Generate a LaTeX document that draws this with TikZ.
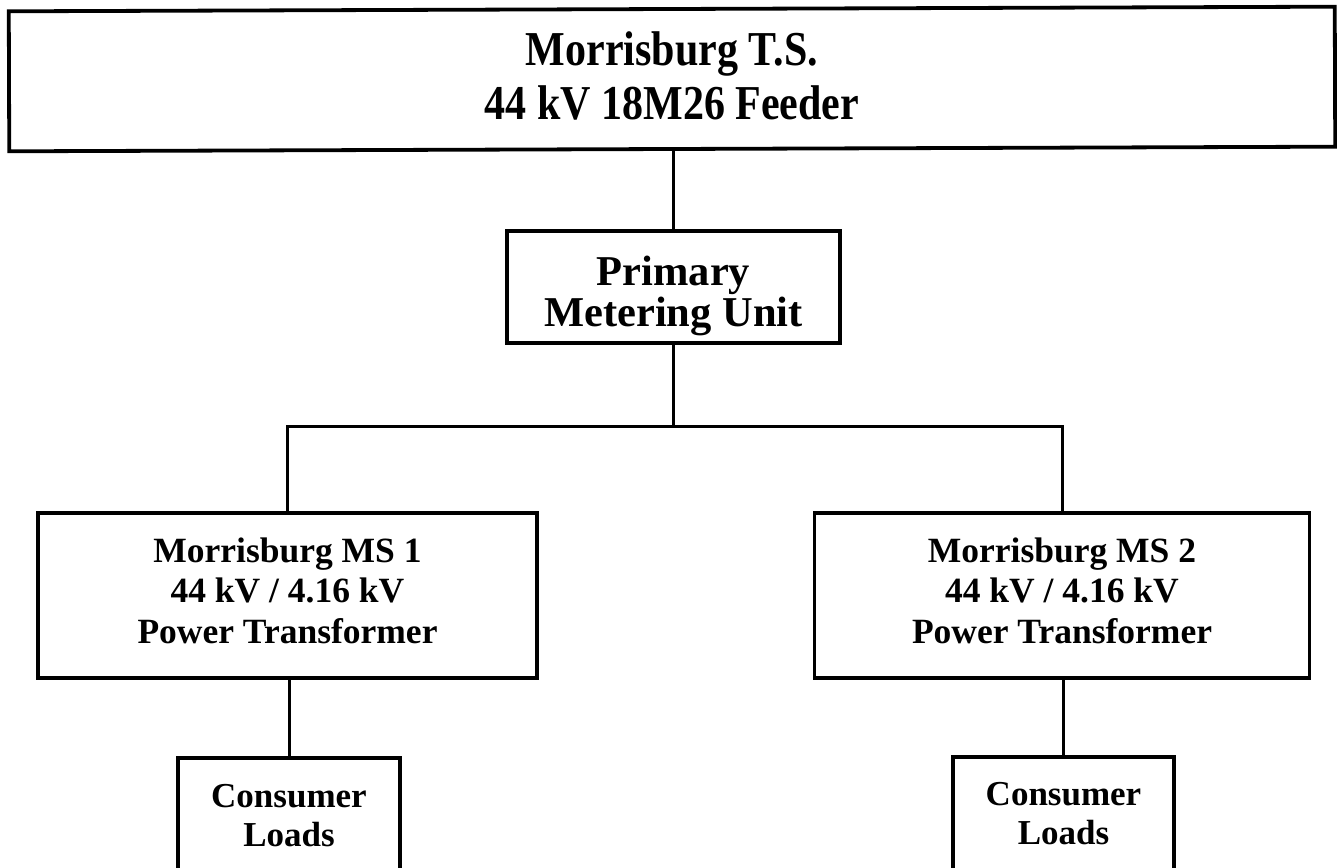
\documentclass[tikz,border=0pt]{standalone}
\usepackage{fontspec}
\setmainfont{Liberation Serif}
\usepackage{graphicx}
\tikzset{
  box/.style={draw=black, line width=3.3pt, rectangle, inner sep=0pt, fill=white},
  wire/.style={draw=black, line width=3pt},
  lbl/.style={anchor=base, inner sep=0pt, outer sep=0pt, text=black, font=\bfseries},
}
% centred lines whose reference point is the baseline of the first line
\newcommand{\linesblock}[1]{\begin{tabular}[t]{@{}c@{}}#1\end{tabular}}
\begin{document}
\begin{tikzpicture}[x=1pt, y=-1pt]
  \useasboundingbox (0,0) rectangle (1337,867);
  \clip (0,0) rectangle (1337,867);

  % boxes
  \node[box, line width=3.8pt, rotate=0.2, minimum width=1326pt, minimum height=140pt] (ts) at (672,79) {};
  \node[box, minimum width=333pt, minimum height=112pt] (pmu) at (673.5,287) {};
  \node[box, minimum width=499pt, minimum height=165pt] (ms1) at (287.5,595.5) {};
  \node[box, minimum width=495pt, minimum height=165pt] (ms2) at (1062,595.5) {};
  \node[box, minimum width=222pt, minimum height=142pt] (cl1) at (289,829) {};
  \node[box, minimum width=221pt, minimum height=142pt] (cl2) at (1063.5,828) {};

  % labels
  \node[lbl] (tsText) at (672,66)
    {\scalebox{1}[1.16]{\fontsize{42}{46.5}\selectfont\linesblock{Morrisburg T.S.\\44 kV 18M26 Feeder}}};
  \node[lbl] (pmuText) at (673.5,285)
    {\fontsize{42.5}{39.5}\selectfont\linesblock{Primary\\Metering Unit}};
  \node[lbl] (ms1Text) at (287.5,562)
    {\fontsize{35.5}{40.5}\selectfont\linesblock{Morrisburg MS 1\\44 kV / 4.16 kV\\Power Transformer}};
  \node[lbl] (ms2Text) at (1062,562)
    {\fontsize{35.5}{40.5}\selectfont\linesblock{Morrisburg MS 2\\44 kV / 4.16 kV\\Power Transformer}};
  \node[lbl] (cl1Text) at (289,807)
    {\fontsize{35}{39}\selectfont\linesblock{Consumer\\Loads}};
  \node[lbl] (cl2Text) at (1063.5,805)
    {\fontsize{35}{39}\selectfont\linesblock{Consumer\\Loads}};

  % connectors
  \coordinate (bus) at (673.5,426);
  \draw[wire] (pmu.north) -- (pmu.north |- ts.south);
  \draw[wire] (pmu.south) -- (bus);
  \draw[wire] (ms1.north) -- (ms1.north |- bus) -- (ms2.north |- bus) -- (ms2.north);
  \draw[wire] (cl1.north) -- (cl1.north |- ms1.south);
  \draw[wire] (cl2.north) -- (cl2.north |- ms2.south);
\end{tikzpicture}
\end{document}
